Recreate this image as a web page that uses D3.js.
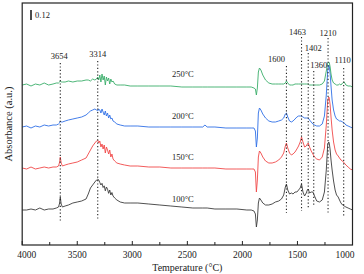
<!DOCTYPE html>
<html><head><meta charset="utf-8">
<script src="https://cdn.jsdelivr.net/npm/d3@7"></script>
<style>html,body{margin:0;padding:0;background:#fff;} svg{display:block;}</style>
</head><body><svg id="c" width="364" height="274"></svg>
<script>
// ---- data ----
const wavenumbers = [4000,3960,3920,3880,3840,3800,3760,3720,3690,3670,
 3660,3654,3646,3635,3610,3580,3540,3500,3460,3420,
 3400,3380,3360,3340,3325,3314,3305,3295,3285,3275,
 3265,3255,3245,3235,3225,3215,3205,3195,3185,3175,
 3160,3140,3110,3070,3020,2950,2850,2750,2650,2550,
 2450,2360,2340,2320,2250,2150,2050,1960,1920,1895,
 1882,1873,1864,1855,1845,1832,1815,1790,1760,1730,
 1700,1670,1645,1625,1610,1600,1588,1572,1555,1540,
 1522,1505,1490,1475,1463,1450,1435,1420,1410,1402,
 1390,1375,1360,1345,1325,1300,1275,1255,1238,1225,
 1215,1210,1203,1195,1185,1172,1158,1145,1130,1118,
 1105,1090,1075,1060,1040,1020,1000];

const absorb100 = [0,0,.012,0,.024,0,.012,.012,.024,.036,
 .084,.156,.072,.036,.048,.060,.084,.096,.108,.132,
 .192,.264,.300,.336,.360,.372,.360,.330,.300,.320,
 .270,.290,.230,.276,.250,.200,.240,.180,.210,.168,
 .144,.120,.096,.084,.084,.084,.072,.060,.048,.036,
 .024,.024,.024,.024,.012,.012,.012,0,0,-.012,
 -.048,-.204,-.120,.084,.144,.120,.084,.060,.060,.072,
 .096,.108,.132,.180,.276,.312,.240,.192,.204,.192,
 .216,.216,.240,.264,.312,.216,.168,.204,.240,.252,
 .204,.216,.216,.168,.108,.096,.120,.216,.480,.792,
 .816,.792,.720,.600,.480,.348,.240,.180,.156,.120,
 .084,.060,.048,.036,.024,.012,0];

const absorb150 = [0,-.012,.012,-.012,0,.012,0,.012,.012,.024,
 .072,.132,.060,.024,.036,.048,.060,.072,.096,.120,
 .168,.216,.264,.300,.324,.336,.300,.324,.252,.288,
 .228,.276,.180,.252,.216,.168,.216,.132,.168,.108,
 .084,.060,.048,.036,.024,.024,.012,.012,0,0,
 0,0,0,0,0,-.012,-.012,-.012,-.012,-.012,
 -.048,-.288,-.144,.132,.204,.180,.132,.084,.060,.060,
 .072,.096,.132,.180,.264,.300,.240,.180,.156,.168,
 .192,.228,.264,.312,.372,.312,.252,.264,.288,.300,
 .252,.204,.168,.132,.108,.096,.132,.240,.516,.816,
 .852,.828,.756,.612,.456,.312,.216,.168,.144,.120,
 .096,.084,.060,.036,.012,-.012,-.024];

const absorb200 = [0,.012,-.012,.012,0,.024,.012,.024,.024,.036,
 .048,.072,.060,.060,.072,.084,.096,.108,.120,.144,
 .168,.192,.204,.216,.204,.192,.216,.204,.168,.216,
 .180,.144,.192,.132,.168,.108,.144,.096,.108,.072,
 .060,.036,.024,.012,.012,.012,0,0,0,0,
 0,0,.024,0,0,-.012,-.012,-.012,-.012,-.012,
 -.048,-.240,-.132,.168,.228,.204,.156,.108,.072,.060,
 .060,.072,.084,.108,.156,.168,.120,.072,.060,.072,
 .096,.120,.132,.132,.132,.120,.108,.108,.108,.108,
 .084,.060,.036,.024,.012,.012,.036,.132,.384,.684,
 .744,.720,.636,.492,.324,.204,.132,.096,.084,.072,
 .072,.060,.048,.024,.012,0,-.012];

const absorb250 = [0,.012,-.012,.012,0,.024,0,.012,.024,.024,
 .036,.048,.036,.036,.036,.048,.036,.048,.048,.060,
 .060,.048,.072,.060,.072,.096,.060,.120,.036,.132,
 .060,.108,0,.096,.048,.084,.012,.072,.036,.048,
 .012,0,0,0,-.012,-.012,-.012,-.012,-.012,-.024,
 -.024,-.024,-.024,-.024,-.024,-.024,-.024,-.024,-.024,-.036,
 -.048,-.120,-.036,.156,.204,.180,.120,.060,.024,.012,
 .012,.012,.012,.012,.024,.048,.024,0,0,0,
 .012,.012,.012,.012,.012,.012,.012,.012,.012,.012,
 0,0,0,0,0,0,.012,.048,.168,.264,
 .276,.264,.216,.132,.060,.024,.012,0,0,.012,
 0,.024,.036,0,-.012,-.012,-.024];

const seriesNames = ["100°C","150°C","200°C","250°C"];
const seriesOffsets = [0.42, 0.924, 1.416, 1.92];
const peakLabels = ["3654","3314","1600","1463","1402","1360","1210","1110"];
const peakPositions = [3654,3314,1600,1463,1402,1352,1222,1080];
const xTickLabels = [4000,3500,3000,2500,2000,1500,1000];
const xMinorTicks = [3750,3250,2750,2250,1750,1250];
const scaleBarValue = 0.12;

// ---- layout / style ----
const colors = ["#3c3c3c","#f04848","#2f6fe6","#3aae6a"];
const peakLineTop = [2.184,2.208,2.148,2.496,2.304,2.088,2.484,2.124];
const peakLineBottom = [0.276,0.312,0.384,0.408,0.444,0.468,0.384,0.336];
const peakLabelDx = [-1,0,-10,-4,5,5,0,-1];
const peakLabelDy = [-7,-7,-7,-5,-5,-6,-5,-8];
const font = "'Liberation Serif','Times New Roman',serif";

const svg = d3.select("#c");
const x = d3.scaleLinear().domain([4000,1000]).range([22.2,352.5]);
const y = d3.scaleLinear().domain([0,2.904]).range([245,3]);

const allSeries = [absorb100, absorb150, absorb200, absorb250];

// spectra
const line = d3.line().x(d=>x(d[0])).y(d=>y(d[1]));
allSeries.forEach((vals,i)=>{
  const pts = wavenumbers.map((w,j)=>[w, vals[j] + seriesOffsets[i]]);
  svg.append("path").attr("d", line(pts)).attr("fill","none")
    .attr("stroke", colors[i]).attr("stroke-width",0.9).attr("stroke-linejoin","round");
});

// peak dotted lines and labels
peakPositions.forEach((p,i)=>{
  svg.append("line").attr("x1",x(p)).attr("x2",x(p))
    .attr("y1",y(peakLineTop[i])).attr("y2",y(peakLineBottom[i]))
    .attr("stroke","#222").attr("stroke-width",1.1).attr("stroke-dasharray","1.2,2.2");
  svg.append("text").attr("x",x(p)+peakLabelDx[i]).attr("y",y(peakLineTop[i])+peakLabelDy[i])
    .attr("text-anchor","middle").attr("dominant-baseline","central")
    .attr("font-family",font).attr("font-size","8.5px").attr("fill","#222").text(peakLabels[i]);
});

// temperature labels
seriesNames.forEach((n,i)=>{
  svg.append("text").attr("x",x(2541)).attr("y",y(seriesOffsets[i]+0.138))
    .attr("text-anchor","middle").attr("dominant-baseline","central")
    .attr("font-family",font).attr("font-size","8.5px").attr("fill","#222").text(n);
});

// scale bar
const sbBase = 2.70;
svg.append("line").attr("x1",31).attr("x2",31).attr("y1",y(sbBase)).attr("y2",y(sbBase+scaleBarValue))
  .attr("stroke","#111").attr("stroke-width",1.5);
svg.append("text").attr("x",35).attr("y",y(sbBase+scaleBarValue/2)).attr("dominant-baseline","central")
  .attr("font-family",font).attr("font-size","8.5px").attr("fill","#222").text(String(scaleBarValue));

// frame
svg.append("rect").attr("x",x(4000)).attr("y",y(2.904)).attr("width",x(1000)-x(4000))
  .attr("height",y(0)-y(2.904)).attr("fill","none").attr("stroke","#222").attr("stroke-width",1.2);

// ticks
xTickLabels.forEach(t=>{
  svg.append("line").attr("x1",x(t)).attr("x2",x(t)).attr("y1",y(0)).attr("y2",y(0)-4)
    .attr("stroke","#222").attr("stroke-width",1);
});
xMinorTicks.forEach(t=>{
  svg.append("line").attr("x1",x(t)).attr("x2",x(t)).attr("y1",y(0)).attr("y2",y(0)-3)
    .attr("stroke","#222").attr("stroke-width",1);
});
xTickLabels.forEach((t,i)=>{
  let dx = 0;
  if (i===0) dx = 4.5;
  if (i===xTickLabels.length-1) dx = -7.5;
  svg.append("text").attr("x",x(t)+dx).attr("y",255).attr("text-anchor","middle")
    .attr("dominant-baseline","central").attr("font-family",font).attr("font-size","9.5px")
    .attr("fill","#222").text(t);
});

// axis titles
svg.append("text").attr("x",(x(4000)+x(1000))/2).attr("y",267).attr("text-anchor","middle")
  .attr("dominant-baseline","central").attr("font-family",font).attr("font-size","10px")
  .attr("fill","#222").text("Temperature (°C)");
svg.append("text").attr("transform","translate(8,124) rotate(-90)").attr("text-anchor","middle")
  .attr("dominant-baseline","central").attr("font-family",font).attr("font-size","10.5px")
  .attr("fill","#222").text("Absorbance (a.u.)");
</script>
</body></html>
